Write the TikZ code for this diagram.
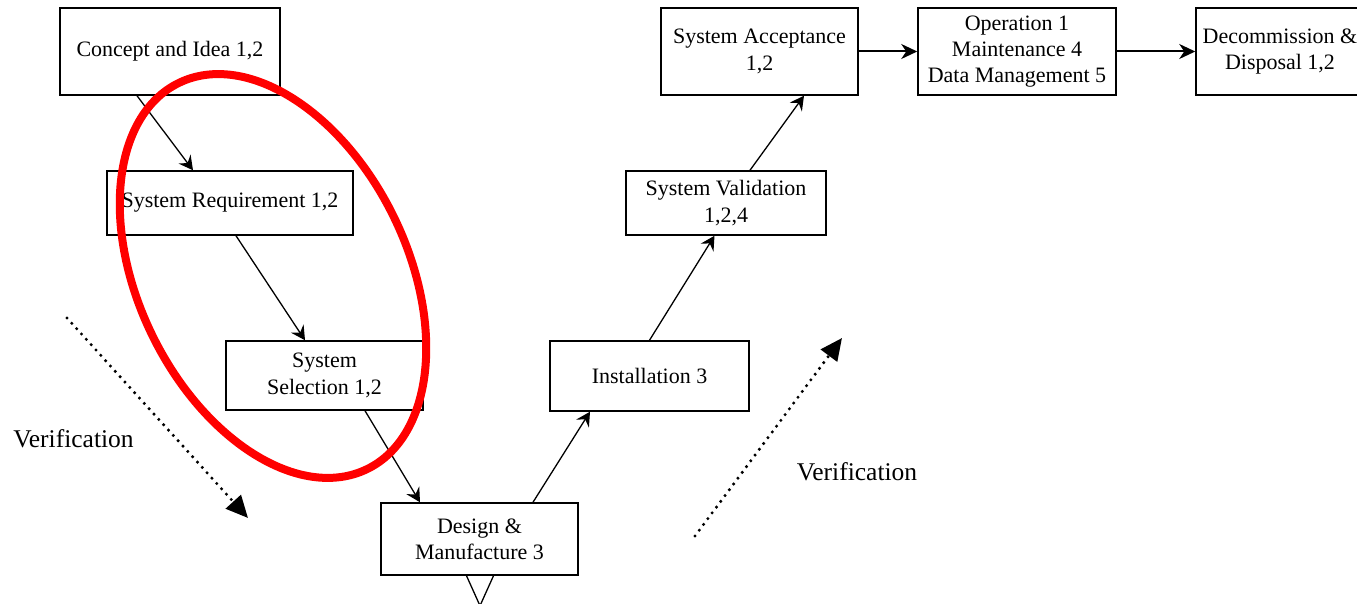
\documentclass[tikz,border=0pt]{standalone}
\usepackage{fontspec}
\setmainfont{Liberation Serif}
\usetikzlibrary{arrows.meta,calc}
\begin{document}
\begin{tikzpicture}[x=0.5pt,y=-0.5pt,
  box/.style={draw, line width=0.75pt, align=center, inner sep=0pt, fill=white,
    font=\fontsize{11pt}{13.2pt}\selectfont},
  conn/.style={draw, line width=0.65pt, -{Stealth[length=7pt,width=7.5pt,inset=2.5pt]}},
  hconn/.style={draw, line width=1pt, -{Stealth[length=8pt,width=7.5pt,inset=2.5pt]}},
  vdots/.style={line width=1.7pt, dash pattern=on 0pt off 3.6pt, line cap=round,
    -{Triangle[length=11pt,width=10pt]}},
  vlabel/.style={font=\fontsize{12.75pt}{15pt}\selectfont, inner sep=0pt},
  ring/.style={draw=red, line width=4pt}]
\useasboundingbox (0,0) rectangle (1357,604);
\clip (0,0) rectangle (1357,604);

\node[box, minimum width=110pt, minimum height=43.5pt] (concept) at (170,51.5) {Concept and Idea 1,2};
\node[box, minimum width=123pt, minimum height=32pt] (sysreq) at (230,203) {System Requirement 1,2};
\node[box, minimum width=98.5pt, minimum height=34.5pt] (select) at (324.5,375.5) {System\\Selection 1,2};
\node[box, minimum width=98.5pt, minimum height=36pt] (design) at (479.5,539) {Design \&\\Manufacture 3};
\node[box, minimum width=99.5pt, minimum height=35pt] (install) at (649.5,376) {Installation 3};
\node[box, minimum width=100pt, minimum height=32pt] (valid) at (726,203) {System Validation\\1,2,4};
\node[box, minimum width=98.5pt, minimum height=43.5pt] (accept) at (759.5,51.5) {System Acceptance\\1,2};
\node[box, minimum width=99pt, minimum height=43.5pt] (oper) at (1017,51.5) {Operation 1\\Maintenance 4\\Data Management 5};
\node[box, minimum width=84pt, minimum height=43.5pt] (decom) at (1280,51.5) {Decommission \&\\Disposal 1,2};

\draw[conn] ($(concept.south)+(-33,0)$) -- ($(sysreq.north)+(-37,0)$);
\draw[conn] ($(sysreq.south)+(6,0)$) -- ($(select.north)+(-19.5,0)$);
\draw[conn] ($(select.south)+(40.5,0)$) -- ($(design.north)+(-59.5,0)$);
\draw[conn] ($(design.north)+(53.5,0)$) -- ($(install.south)+(-59.5,0)$);
\draw[conn] (install.north) -- ($(valid.south)+(-11.5,0)$);
\draw[conn] ($(valid.north)+(24,0)$) -- ($(accept.south)+(44.5,0)$);
\draw[hconn] (accept.east) -- (oper.west);
\draw[hconn] (oper.east) -- (decom.west);

\draw[line width=0.65pt] ($(design.south)+(-13,0)$) -- ($(design.south)+(0.5,30)$) -- ($(design.south)+(14,0)$);

\coordinate (v1s) at (67,318);
\coordinate (v1e) at (248,518);
\draw[vdots] (v1s) -- (v1e);
\coordinate (v2s) at (695,536);
\coordinate (v2e) at (842,338);
\draw[vdots] (v2s) -- (v2e);
\node[vlabel] (vl1) at (73.5,439) {Verification};
\node[vlabel] (vl2) at (857,472) {Verification};

\coordinate (ringc) at (273,276);
\draw[ring, rotate around={-64:(ringc)}] (ringc) ellipse [x radius=107.4pt, y radius=67.25pt];
\end{tikzpicture}
\end{document}
